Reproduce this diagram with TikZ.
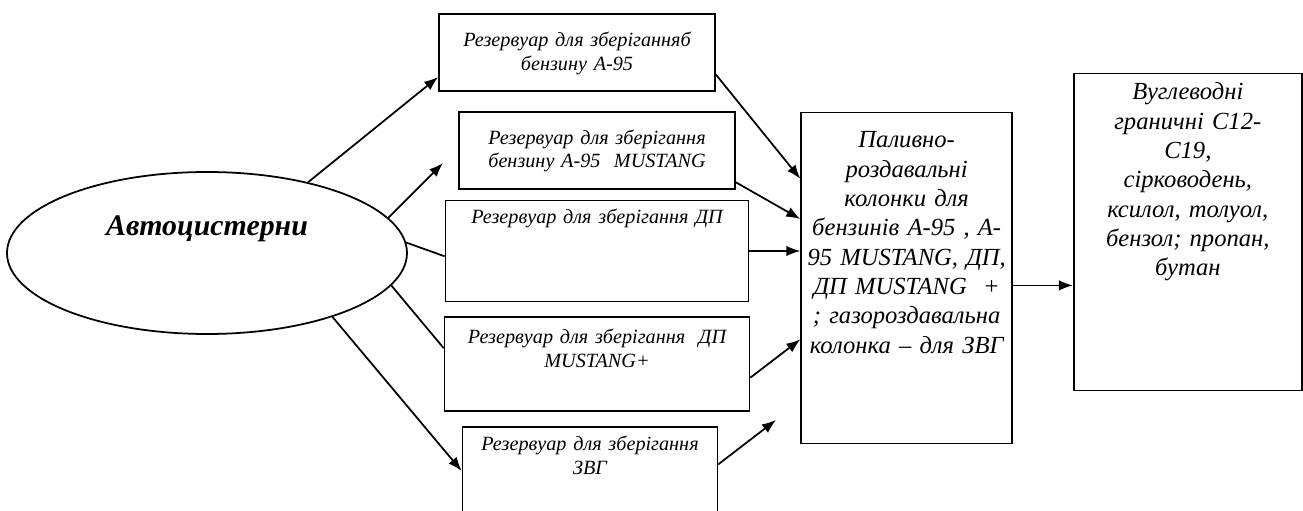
\documentclass[tikz,border=0pt]{standalone}
\usepackage{fontspec}
\setmainfont{Liberation Serif}
\usetikzlibrary{arrows.meta,positioning,shapes.geometric}

\begin{document}
\begin{tikzpicture}
[font=\itshape, >={Latex[length=8pt,width=6pt]},
% STYLES
% The tanker style is used for the road tankers
tanker/.style={ellipse, draw, line width=1pt, inner sep=0pt, minimum width=8cm, minimum height=3.24cm, text height=12pt, text depth=32pt, font=\fontsize{17}{20}\selectfont\bfseries\itshape},
% The tank style is used for the storage tanks
tank/.style={rectangle, draw, line width=1pt, inner sep=3pt, align=center, text height=12pt, font=\fontsize{11.5}{13.6}\selectfont\itshape},
% The unit style is used for the dispensers and the emissions
unit/.style={rectangle, draw, line width=1pt, inner ysep=3pt, inner xsep=1pt, align=center, font=\fontsize{14}{16.7}\selectfont\itshape},
link/.style={line width=1pt}]
\useasboundingbox (0,0) rectangle (26.06,10.22);

% Draw tanker and tanks
\node [tanker] (cist) at (4.14,5.16) {Автоцистерни};
\node [tank, text width=151pt, text height=15.4pt, text depth=22.4pt] (a95) at (11.54,9.17)
{Резервуар для зберіганняб\\ бензину А-95};
\node [tank, text width=151pt, text height=15.4pt, text depth=22.4pt, below=0.38cm of a95, xshift=0.4cm] (a95m)
{Резервуар для зберігання\\ бензину А-95~ MUSTANG};
\node [tank, text width=166.4pt, text height=10.3pt, text depth=41.2pt, below=0.2cm of a95m] (dp)
{Резервуар для зберігання ДП};
\node [tank, text width=167.5pt, text depth=35.5pt, below=0.28cm of dp] (dpm)
{Резервуар для зберігання~ ДП\\ MUSTANG+};
\node [tank, text width=139pt, text height=10.3pt, text depth=33.8pt, below=0.28cm of dpm, xshift=-0.14cm] (zvg)
{Резервуар для зберігання\\ ЗВГ};

% Dispensers and emissions
\node [unit, text width=118pt, text height=17pt, text depth=165.3pt, right=1.02cm of dp, yshift=-0.54cm] (kol)
{Паливно-\\ роздавальні\\ колонки для\\ бензинів А-95 , А-\\ 95 MUSTANG, ДП,\\ ДП MUSTANG~ +\\ ; газороздавальна\\ колонка – для ЗВГ};
\node [unit, text width=127.7pt, text height=12pt, text depth=162.4pt, right=1.2cm of kol, yshift=0.92cm] (vug)
{Вуглеводні\\ граничні С12-\\ С19,\\ сірководень,\\ ксилол, толуол,\\ бензол; пропан,\\ бутан};

% free arrow ends
\coordinate (e2) at (8.86,6.96);
\coordinate (e10) at (15.52,1.82);

% Draw the links
\path[->,link]
(cist.35) edge (a95.190)
(cist.11) edge (e2)
(cist.-27) edge (zvg.west);

\path[link]
(cist.3) edge (dp.182)
(cist.-10) edge (dpm.174);

\path[->,link]
(a95.-9) edge (kol.137)
(a95m.-13) edge (kol.151)
(dp.east) edge (dp.east -| kol.west)
(dpm.-5) edge (kol.210)
(zvg.3) edge (e10)
(kol.-4) edge (kol.-4 -| vug.west);

\end{tikzpicture}
\end{document}
